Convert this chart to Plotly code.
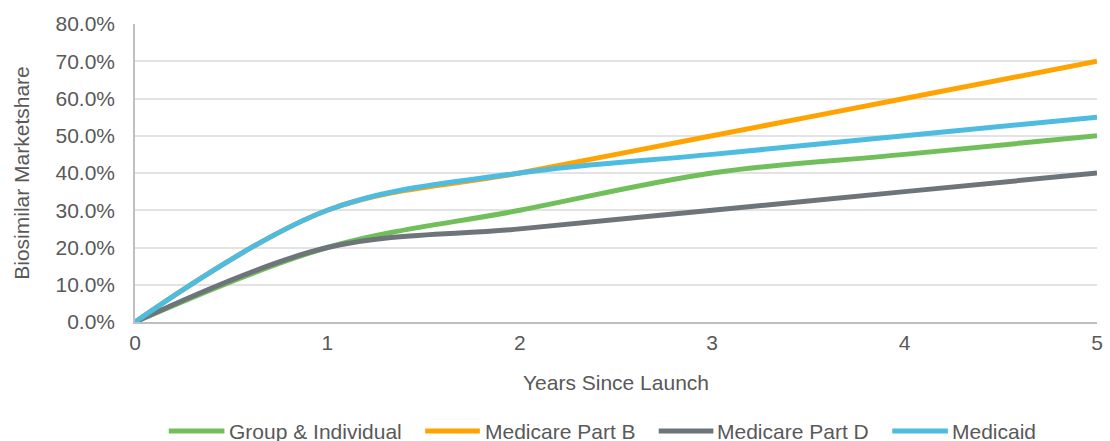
import plotly.graph_objects as go

years = [0, 1, 2, 3, 4, 5]
series_names = ["Group & Individual", "Medicare Part B", "Medicare Part D", "Medicaid"]
group_individual = [0.00, 0.20, 0.30, 0.40, 0.45, 0.50]
medicare_part_b = [0.00, 0.30, 0.40, 0.50, 0.60, 0.70]
medicare_part_d = [0.00, 0.20, 0.25, 0.30, 0.35, 0.40]
medicaid = [0.00, 0.30, 0.40, 0.45, 0.50, 0.55]
y_ticks = [0.0, 0.1, 0.2, 0.3, 0.4, 0.5, 0.6, 0.7, 0.8]
x_ticks = [0, 1, 2, 3, 4, 5]

values = [group_individual, medicare_part_b, medicare_part_d, medicaid]
colors = ["#70BF5B", "#FFA300", "#6E757A", "#4DBCE0"]

W, H = 1110, 441
ML, MR, MT, MB = 135, 7, 24, 119
PW = W - ML - MR
PH = H - MT - MB
FONT = "Liberation Sans, Arial, sans-serif"
TXT = "#595959"

fig = go.Figure()
for name, vals, col in zip(series_names, values, colors):
    fig.add_trace(go.Scatter(
        x=years, y=vals, name=name, mode="lines",
        line=dict(color=col, width=5, shape="spline", smoothing=1.0),
        showlegend=False, cliponaxis=False,
    ))

# custom legend (long line samples as in the reference)
leg_lines = [(169, 225), (427, 482), (662, 717), (897, 953)]
leg_text_x = [229, 486, 720, 956]
leg_y_px = 431
def px_x(p):
    return (p - ML) / PW
def px_y(p):
    return (H - MB - p) / PH

for name, col, (a, b), tx in zip(series_names, colors, leg_lines, leg_text_x):
    fig.add_shape(type="line", xref="paper", yref="paper",
                  x0=px_x(a), x1=px_x(b), y0=px_y(leg_y_px), y1=px_y(leg_y_px),
                  line=dict(color=col, width=5))
    fig.add_annotation(xref="paper", yref="paper", x=px_x(tx), y=px_y(leg_y_px),
                       text=name, showarrow=False, xanchor="left", yanchor="middle",
                       font=dict(family=FONT, size=21, color=TXT), xshift=-1)

fig.update_layout(
    width=W, height=H,
    margin=dict(l=ML, r=MR, t=MT, b=MB, pad=0),
    paper_bgcolor="white", plot_bgcolor="white",
    font=dict(family=FONT, size=21, color=TXT),
    showlegend=False,
)
fig.update_xaxes(
    range=[0, 5], tickvals=x_ticks, ticktext=[str(v) for v in x_ticks],
    showgrid=False, zeroline=False,
    showline=True, linecolor="#BFBFBF", linewidth=1.5,
    ticks="", ticklabelstandoff=1,
    title=dict(text="Years Since Launch", standoff=22, font=dict(size=21, color=TXT)),
    tickfont=dict(size=21, color=TXT),
)
fig.update_yaxes(
    range=[0, 0.8], tickvals=y_ticks, tickformat=".1%",
    showgrid=True, gridcolor="#E3E3E3", gridwidth=1.5, zeroline=False,
    showline=True, linecolor="#BFBFBF", linewidth=1.5,
    ticks="", ticklabelstandoff=14,
    title=dict(text="Biosimilar Marketshare", standoff=20, font=dict(size=21, color=TXT)),
    tickfont=dict(size=21, color=TXT),
)

fig.write_html("out.html")
